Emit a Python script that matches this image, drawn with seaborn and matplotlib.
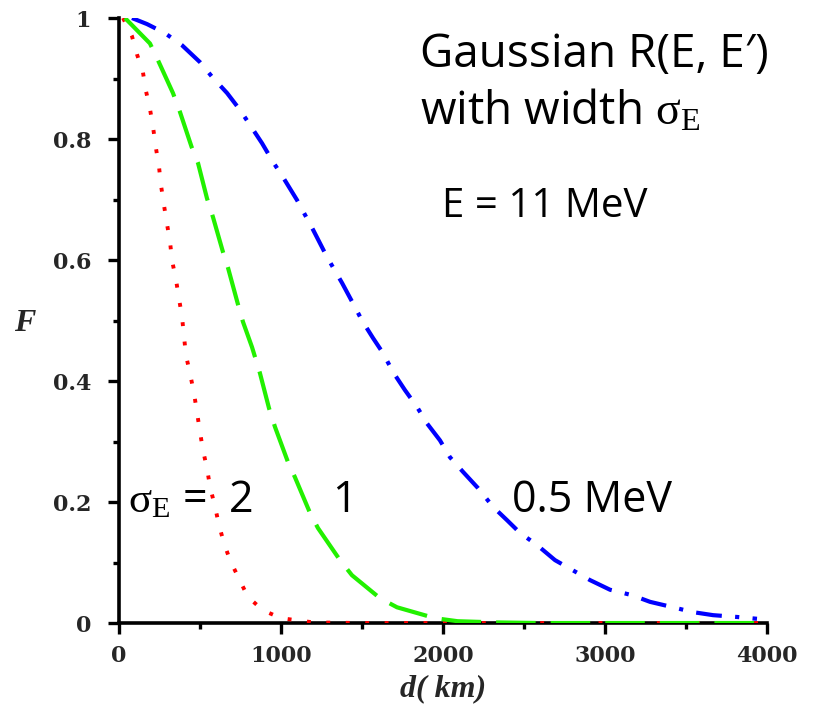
import matplotlib
matplotlib.use("Agg")
import matplotlib.pyplot as plt
import seaborn as sns
import pandas as pd
from matplotlib.ticker import MultipleLocator

# ---- data ----
d_red = [25, 80, 111, 148, 166, 191, 210, 228, 247, 259, 278, 296, 315, 327, 352, 370,
         389, 413, 438, 463, 481, 500, 518, 543, 562, 593, 617, 648, 685, 741, 796, 889,
         1000, 1200, 1500, 2000, 2500, 3000, 3500, 4000]
F_red = [1.0, 0.97, 0.94, 0.91, 0.88, 0.85, 0.82, 0.785, 0.754, 0.724, 0.69, 0.66, 0.63,
         0.60, 0.567, 0.537, 0.506, 0.443, 0.413, 0.38, 0.349, 0.316, 0.286, 0.256, 0.225,
         0.192, 0.162, 0.132, 0.104, 0.073, 0.043, 0.021, 0.008, 0.001, 0.0, 0.0, 0.0,
         0.0, 0.0, 0.0]

d_green = [37, 191, 241, 333, 376, 448, 488, 543, 580, 642, 673, 735, 765, 821, 870, 926,
           963, 1043, 1086, 1179, 1228, 1364, 1438, 1611, 1716, 1951, 2090, 2330, 2600,
           3000, 3500, 4000]
F_green = [1.0, 0.958, 0.93, 0.876, 0.845, 0.787, 0.76, 0.702, 0.671, 0.613, 0.587, 0.526,
           0.498, 0.456, 0.413, 0.355, 0.324, 0.266, 0.241, 0.182, 0.157, 0.104, 0.079,
           0.041, 0.026, 0.008, 0.003, 0.001, 0.0, 0.0, 0.0, 0.0]

d_blue = [80, 173, 284, 389, 500, 574, 667, 747, 809, 883, 951, 1012, 1099, 1198, 1284,
          1377, 1457, 1500, 1568, 1630, 1691, 1765, 1840, 1901, 1981, 2043, 2123, 2216,
          2309, 2395, 2475, 2580, 2691, 2796, 2907, 3031, 3167, 3278, 3420, 3543, 3667,
          3815, 3938]
F_blue = [1.0, 0.99, 0.975, 0.955, 0.927, 0.903, 0.876, 0.848, 0.823, 0.793, 0.762, 0.737,
          0.699, 0.65, 0.605, 0.562, 0.522, 0.50, 0.471, 0.446, 0.415, 0.385, 0.357, 0.33,
          0.302, 0.274, 0.25, 0.223, 0.192, 0.17, 0.149, 0.129, 0.104, 0.088, 0.071, 0.055,
          0.046, 0.035, 0.026, 0.018, 0.013, 0.010, 0.007]

x_ticks = [0, 1000, 2000, 3000, 4000]
x_tick_labels = ["0", "1000", "2000", "3000", "4000"]
y_ticks = [0, 0.2, 0.4, 0.6, 0.8, 1.0]
y_tick_labels = ["0", "0.2", "0.4", "0.6", "0.8", "1"]

sns.set_style("ticks")
plt.rcParams["mathtext.fontset"] = "custom"
plt.rcParams["mathtext.rm"] = "Liberation Serif"
plt.rcParams["mathtext.it"] = "Liberation Serif:italic"
plt.rcParams["mathtext.bf"] = "Liberation Serif:bold"

fig = plt.figure(figsize=(8.14, 7.10), dpi=100)
ax = fig.add_axes([0.1462, 0.1225, 0.7961, 0.8521])

df_r = pd.DataFrame({"d": d_red, "F": F_red})
df_g = pd.DataFrame({"d": d_green, "F": F_green})
df_b = pd.DataFrame({"d": d_blue, "F": F_blue})

sns.lineplot(data=df_r, x="d", y="F", ax=ax, color="#ff0000", linewidth=2.8,
             linestyle=(0, (1.0, 4.0)), sort=False, estimator=None, zorder=3)
sns.lineplot(data=df_g, x="d", y="F", ax=ax, color="#22f000", linewidth=3.0,
             linestyle=(0, (9.5, 3.6)), sort=False, estimator=None, zorder=3)
sns.lineplot(data=df_b, x="d", y="F", ax=ax, color="#0000ff", linewidth=3.0,
             linestyle=(0, (6.2, 3.2, 1.0, 3.2)), sort=False, estimator=None, zorder=3)

ax.set_xlim(0, 4000)
ax.set_ylim(0, 1.0)
for s in ["top", "right"]:
    ax.spines[s].set_visible(False)
for s in ["left", "bottom"]:
    ax.spines[s].set_linewidth(2.6)
    ax.spines[s].set_color("black")
    ax.spines[s].set_zorder(2)

tick_font = dict(fontfamily="DejaVu Serif", fontweight="bold", fontsize=16)
ax.set_xticks(x_ticks)
ax.set_xticklabels(x_tick_labels, **tick_font)
ax.set_yticks(y_ticks)
ax.set_yticklabels(y_tick_labels, **tick_font)
ax.xaxis.set_minor_locator(MultipleLocator(500))
ax.yaxis.set_minor_locator(MultipleLocator(0.1))
ax.tick_params(which="major", direction="out", length=8, width=2.4, color="black")
ax.tick_params(axis="y", which="major", pad=12)
ax.tick_params(axis="x", which="major", pad=8)
ax.tick_params(which="minor", direction="out", length=4, width=2.4, color="black")

ax.set_xlabel("d( km)", fontfamily="Liberation Serif", fontweight="bold",
              fontstyle="italic", fontsize=23)
ax.set_ylabel("F", fontfamily="Liberation Serif", fontweight="bold",
              fontstyle="italic", fontsize=23, rotation=0, va="center")
ax.yaxis.set_label_coords(-0.145, 0.495)
ax.xaxis.set_label_coords(0.50, -0.085)

sig = "$\\mathrm{\u03c3}_\\mathrm{E}$"
ann = dict(fontfamily="Open Sans", color="black")
fig.text(0.516, 0.906, "Gaussian R(E, E\u2032)", fontsize=33, **ann)
fig.text(0.516, 0.824, "with width " + sig, fontsize=33, **ann)
fig.text(0.543, 0.694, "E = 11 MeV", fontsize=29, **ann)
fig.text(0.157, 0.279, sig + " =  2", fontsize=31, **ann)
fig.text(0.408, 0.279, "1", fontsize=31, **ann)
fig.text(0.629, 0.279, "0.5 MeV", fontsize=31, **ann)

fig.savefig("out.png", dpi=100)
